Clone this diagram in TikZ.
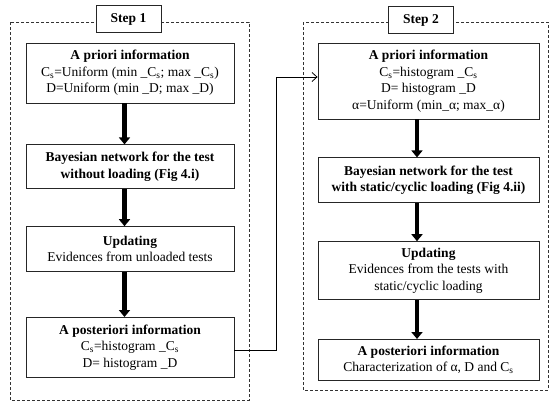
\documentclass[tikz,border=0pt]{standalone}
\usepackage{fontspec}
\setmainfont{Liberation Serif}
\usetikzlibrary{positioning,arrows.meta}
\begin{document}
\begin{tikzpicture}[x=1pt, y=-1pt, font=\fontsize{13.5}{16.5}\selectfont,
    main/.style = {draw=black!85, line width=0.8pt, align=center, inner sep=2pt},
    lcol/.style = {main, minimum width=208pt},
    rcol/.style = {main, minimum width=221pt},
    stepbox/.style = {draw=black!85, fill=white, line width=0.8pt, minimum width=65pt, minimum height=27pt, font=\fontsize{13.5}{16}\selectfont\bfseries},
    frame/.style = {draw=black!80, line width=0.7pt, dash pattern=on 3pt off 2pt},
    big/.style = {line width=4.5pt, -{Triangle[length=7pt,width=11pt]}},
    link/.style = {line width=0.8pt, -{Straight Barb[length=5pt,width=9pt]}}]
    \useasboundingbox (0,0) rectangle (550,408);

    % dashed frames of the two steps
    \draw[frame] (10,22) rectangle (249,400);
    \draw[frame] (303,22) rectangle (548,390);
    \node[stepbox] (s1) at (128.5,19) {Step 1};
    \node[stepbox] (s2) at (421,20) {Step 2};

    % step 1
    \node[lcol, minimum height=60pt] (1) at (130,73) {\textbf{A priori information}\\ C\textsubscript{s}=Uniform (min \_C\textsubscript{s}; max \_C\textsubscript{s})\\ D=Uniform (min \_D; max \_D)};
    \node[lcol, minimum height=44pt] (2) [below=41pt of 1] {\textbf{Bayesian network for the test}\\ \textbf{without loading (Fig 4.i)}};
    \node[lcol, minimum height=45pt] (3) [below=37pt of 2] {\textbf{Updating}\\ Evidences from unloaded tests};
    \node[lcol, minimum height=60pt] (4) [below=45pt of 3] {\textbf{A posteriori information}\\ C\textsubscript{s}=histogram \_C\textsubscript{s}\\ D= histogram \_D};

    % step 2
    \node[rcol, minimum height=76pt] (5) at (428.5,81) {\textbf{A priori information}\\ C\textsubscript{s}=histogram \_C\textsubscript{s}\\ D= histogram \_D\\ α=Uniform (min\_α; max\_α)};
    \node[rcol, minimum height=45pt] (6) [below=38pt of 5] {\textbf{Bayesian network for the test}\\ \textbf{with static/cyclic loading (Fig 4.ii)}};
    \node[rcol, minimum height=58pt] (7) [below=38pt of 6] {\textbf{Updating}\\ Evidences from the tests with\\ static/cyclic loading};
    \node[rcol, minimum height=41pt] (8) [below=39pt of 7] {\textbf{A posteriori information}\\ Characterization of α, D and C\textsubscript{s}};

    \draw[big] ([xshift=-5.5pt]1.south) -- ([xshift=-5.5pt]2.north);
    \draw[big] ([xshift=-5.5pt]2.south) -- ([xshift=-5.5pt]3.north);
    \draw[big] ([xshift=-5.5pt]3.south) -- ([xshift=-5.5pt]4.north);
    \draw[big] ([xshift=-11.5pt]5.south) -- ([xshift=-11.5pt]6.north);
    \draw[big] ([xshift=-11.5pt]6.south) -- ([xshift=-11.5pt]7.north);
    \draw[big] ([xshift=-11.5pt]7.south) -- ([xshift=-11.5pt]8.north);

    \draw[link] ([yshift=-3pt]4.east) -- ++(42,0) |- ([yshift=4pt]5.west);
\end{tikzpicture}
\end{document}
